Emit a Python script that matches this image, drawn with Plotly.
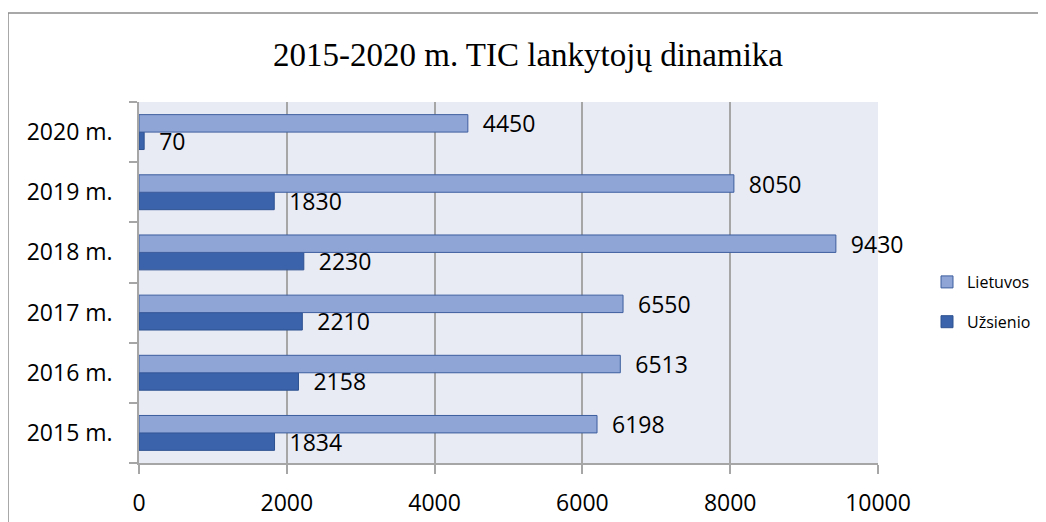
import plotly.graph_objects as go

# data
years = ["2015 m.", "2016 m.", "2017 m.", "2018 m.", "2019 m.", "2020 m."]
lietuvos = [6198, 6513, 6550, 9430, 8050, 4450]
uzsienio = [1834, 2158, 2210, 2230, 1830, 70]
x_ticks = [0, 2000, 4000, 6000, 8000, 10000]

W, H = 1046, 522
OFF = 8   # page body margin shifts the figure
L, R, T, B = 139 - OFF, 878 - OFF, 102 - OFF, 463 - OFF   # plot area in pixels

def px_x(p):
    return (p - OFF - L) / (R - L)

def px_y(p):
    return (B - (p - OFF)) / (B - T)

gap = "\u00a0\u00a0"
lab_font = dict(family="Open Sans", size=23, color="black")

fig = go.Figure()
fig.add_trace(go.Bar(
    y=years, x=uzsienio, name="Užsienio", orientation="h",
    marker=dict(color="#3A63AC", line=dict(color="#2E5290", width=1)),
    text=[str(v) for v in uzsienio], texttemplate=gap + "%{text}",
    textposition="outside", textfont=lab_font, constraintext="none",
    cliponaxis=False, legendgroup="u", legendrank=2,
))
fig.add_trace(go.Bar(
    y=years, x=lietuvos, name="Lietuvos", orientation="h",
    marker=dict(color="#8FA5D6", line=dict(color="#3D5E9E", width=1)),
    text=[str(v) for v in lietuvos], texttemplate=gap + "%{text}",
    textposition="outside", textfont=lab_font, constraintext="none",
    cliponaxis=False, legendgroup="l", legendrank=1,
))

# outer chart border
fig.add_shape(type="rect", xref="paper", yref="paper",
              x0=px_x(8), x1=px_x(1060), y0=px_y(540), y1=px_y(13),
              line=dict(color="#8C8C8C", width=1.5), fillcolor="rgba(0,0,0,0)",
              layer="below")

fig.update_layout(
    width=W, height=H,
    margin=dict(l=L, r=W - R, t=T, b=H - B, pad=0),
    paper_bgcolor="white", plot_bgcolor="#E8EAF4",
    barmode="group", bargap=0.42, bargroupgap=0,
    title=dict(text="2015-2020 m. TIC lankytojų dinamika",
               font=dict(family="Liberation Serif", size=33, color="black"),
               x=(528 - OFF) / W, xanchor="center", y=1 - 46 / H, yanchor="middle"),
    showlegend=True,
    legend=dict(x=px_x(927), xanchor="left", y=px_y(302), yanchor="middle",
                traceorder="grouped", tracegroupgap=16,
                font=dict(family="Open Sans", size=16, color="black"),
                bgcolor="rgba(0,0,0,0)"),
    xaxis=dict(range=[0, 10000], tickvals=x_ticks, tickformat="d",
               showgrid=True, gridcolor="#A6A6A6", gridwidth=1.5,
               showline=True, linecolor="#A6A6A6", linewidth=1.5,
               ticks="outside", ticklen=9, tickcolor="#A6A6A6", tickwidth=1.5,
               ticklabelstandoff=10, zeroline=False,
               tickfont=dict(family="Open Sans", size=23, color="black")),
    yaxis=dict(categoryorder="array", categoryarray=years,
               showgrid=False, showline=True, linecolor="#A6A6A6", linewidth=1.5,
               ticks="outside", tickson="boundaries", ticklen=8,
               tickcolor="#A6A6A6", tickwidth=1.5, ticklabelstandoff=20,
               tickfont=dict(family="Open Sans", size=23, color="black")),
)

fig.write_html("out.html")
